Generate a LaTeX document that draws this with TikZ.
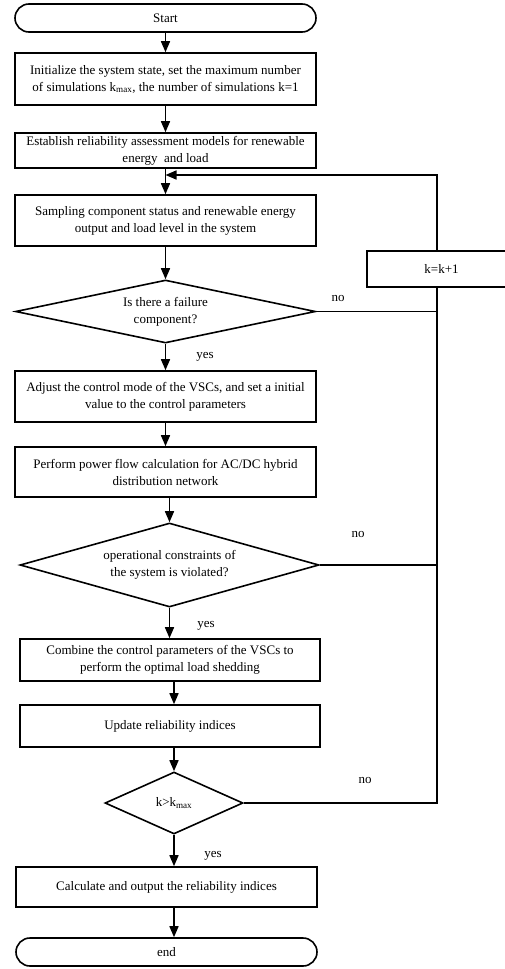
\documentclass[tikz,border=0pt]{standalone}
\usepackage{fontspec}
\setmainfont{Liberation Serif}
\usetikzlibrary{shapes.geometric,arrows.meta}
\begin{document}
\begin{tikzpicture}[x=1pt,y=-1pt,line width=1.6pt,
  txt/.style={font=\fontsize{13}{17}\selectfont},
  box/.style={txt,draw,rectangle,minimum width=301pt,inner sep=0pt,align=center},
  term/.style={txt,draw,rectangle,rounded corners=14pt,minimum width=301pt,minimum height=28pt,inner sep=0pt},
  dia/.style={txt,draw,diamond,inner sep=0pt,align=center},
  arr/.style={-{Triangle[length=11pt,width=9pt]}},
  lbl/.style={txt,inner sep=0pt}]
\useasboundingbox (0,0) rectangle (505,969);
\node[term] (start) at (165.5,18) {Start};
\node[box,minimum height=52pt] (b1) at (165.5,79) {Initialize the system state, set the maximum number\\of simulations k\textsubscript{max}, the number of simulations k=1};
\node[box,minimum height=35pt] (b2) at (165.5,150.5) {Establish reliability assessment models for renewable\\energy\ \ and load};
\node[box,minimum height=51pt] (b3) at (165.5,220.5) {Sampling component status and renewable energy\\output and load level in the system};
\node[dia,minimum width=300pt,minimum height=63pt,aspect=4.7] (d1) at (165.5,311.5) {Is there a failure\\component?};
\node[box,minimum height=51pt] (b4) at (165.5,396.5) {Adjust the control mode of the VSCs, and set a initial\\value to the control parameters};
\node[box,minimum height=50pt] (b5) at (165.5,472) {Perform power flow calculation for AC/DC hybrid\\distribution network};
\node[dia,minimum width=299pt,minimum height=84pt,aspect=3.56] (d2) at (169.5,565) {operational constraints of\\the system is violated?};
\node[box,minimum height=42pt,minimum width=300pt] (b6) at (170,660) {Combine the control parameters of the VSCs to\\perform the optimal load shedding};
\node[box,minimum height=42pt,minimum width=300pt] (b7) at (170,726) {Update reliability indices};
\node[dia,minimum width=138pt,minimum height=62pt,aspect=2.2] (d3) at (174,803) {k>k\textsubscript{max}};
\node[box,minimum height=40pt] (b8) at (166.5,887) {Calculate and output the reliability indices};
\node[term] (end) at (166.5,952) {end};
\node[box,minimum height=36pt,minimum width=149pt] (kb) at (441.5,269) {k=k+1};
\coordinate (ret) at (437,175);

\draw[arr] (start) -- (b1);
\draw[arr] (b1) -- (b2);
\draw[arr] (b2) -- (b3);
\draw[arr] (b3) -- (d1);
\draw[arr] (d1) -- (b4);
\draw[arr] (b4) -- (b5);
\draw[arr] (d2 |- b5.south) -- (d2.north);
\draw[arr] (d2.south) -- (d2.south |- b6.north);
\draw[arr] (d3 |- b6.south) -- (d3 |- b7.north);
\draw[arr] (d3 |- b7.south) -- (d3.north);
\draw[arr] (d3.south) -- (d3.south |- b8.north);
\draw[arr] (d3 |- b8.south) -- (d3 |- end.north);

\draw (d1.east) -- (d1.east -| ret);
\draw (d2.east) -- (d2.east -| ret);
\draw (d3.east) -| (ret |- kb.south);
\draw[arr] (ret |- kb.north) -- (ret) -- (b2.south |- ret);

\node[lbl] (n1) at (338,298) {no};
\node[lbl] (n2) at (358,534) {no};
\node[lbl] (n3) at (365,780) {no};
\node[lbl] (y1) at (205,357) {yes};
\node[lbl] (y2) at (206,626) {yes};
\node[lbl] (y3) at (213,856) {yes};
\end{tikzpicture}
\end{document}
